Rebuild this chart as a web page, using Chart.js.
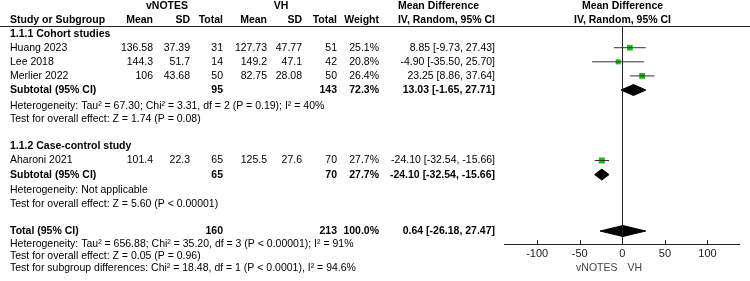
<!DOCTYPE html>
<html><head><meta charset="utf-8">
<script src="https://cdn.jsdelivr.net/npm/chart.js@4/dist/chart.umd.min.js"></script>
<style>html,body{margin:0;padding:0;background:#fff;}canvas{display:block;}</style>
</head><body>
<canvas id="c" width="750" height="281"></canvas>
<script>
// ---------- data ----------
const studies = ['Huang 2023', 'Lee 2018', 'Merlier 2022', 'Aharoni 2021'];
const studyGroup = [0, 0, 0, 1];
const vnotesMean = [136.58, 144.3, 106, 101.4];
const vnotesSD = [37.39, 51.7, 43.68, 22.3];
const vnotesTotal = [31, 14, 50, 65];
const vhMean = [127.73, 149.2, 82.75, 125.5];
const vhSD = [47.77, 47.1, 28.08, 27.6];
const vhTotal = [51, 42, 50, 70];
const weights = [25.1, 20.8, 26.4, 27.7];
const md = [8.85, -4.90, 23.25, -24.10];
const mdLow = [-9.73, -35.50, 8.86, -32.54];
const mdHigh = [27.43, 25.70, 37.64, -15.66];

const groupNames = ['1.1.1 Cohort studies', '1.1.2 Case-control study'];
const subVnotesTotal = [95, 65];
const subVhTotal = [143, 70];
const subWeight = [72.3, 27.7];
const subMd = [13.03, -24.10];
const subLow = [-1.65, -32.54];
const subHigh = [27.71, -15.66];
const hetTexts = ['Heterogeneity: Tau\u00b2 = 67.30; Chi\u00b2 = 3.31, df = 2 (P = 0.19); I\u00b2 = 40%', 'Heterogeneity: Not applicable'];
const effectTexts = ['Test for overall effect: Z = 1.74 (P = 0.08)', 'Test for overall effect: Z = 5.60 (P < 0.00001)'];

const totalVnotes = [160];
const totalVh = [213];
const totalWeight = [100.0];
const totalMd = [0.64];
const totalLow = [-26.18];
const totalHigh = [27.47];
const totalTexts = [
  'Heterogeneity: Tau\u00b2 = 656.88; Chi\u00b2 = 35.20, df = 3 (P < 0.00001); I\u00b2 = 91%',
  'Test for overall effect: Z = 0.05 (P = 0.96)',
  'Test for subgroup differences: Chi\u00b2 = 18.48, df = 1 (P < 0.0001), I\u00b2 = 94.6%'
];
const xTicks = [-100, -50, 0, 50, 100];
const favourLabels = ['vNOTES', 'VH'];

// ---------- layout (row positions in y-scale units) ----------
const studyRows = [1, 2, 3, 9];
const groupRows = [0, 8];
const subRows = [4, 10];
const hetRows = [5.13, 11.1];
const effectRows = [6.06, 12.1];
const totalRow = 14;
const totalTextRows = [14.92, 15.77, 16.62];
const headRow1 = -1.96, headRow2 = -0.97;
const DH = 0.39; // diamond half height
const COL = {study: 10, vMean: 153, vSD: 190, vTotal: 223, hMean: 267, hSD: 302, hTotal: 337, weight: 379, ci: 495};
const FF = '"Liberation Sans", Arial, sans-serif';
const FS = '10.5px ';
const GREEN = '#14bd14';

const fmtCI = (e, l, h) => e.toFixed(2) + ' [' + l.toFixed(2) + ', ' + h.toFixed(2) + ']';
const diamond = (e, l, h, r) => [{x: l, y: r}, {x: e, y: r - DH}, {x: h, y: r}, {x: e, y: r + DH}, {x: l, y: r}];

const datasets = [];
studies.forEach((s, i) => {
  datasets.push({type: 'line', data: [{x: mdLow[i], y: studyRows[i]}, {x: mdHigh[i], y: studyRows[i]}],
    borderColor: '#333', borderWidth: 1, pointRadius: 0, fill: false});
});
datasets.push({type: 'scatter', data: studies.map((s, i) => ({x: md[i], y: studyRows[i]})),
  pointStyle: 'rect', pointRadius: (c) => 1.6 + weights[c.dataIndex] * 0.095,
  backgroundColor: GREEN, borderColor: GREEN, borderWidth: 0});
subMd.forEach((e, g) => {
  datasets.push({type: 'line', data: diamond(e, subLow[g], subHigh[g], subRows[g]),
    borderColor: '#000', backgroundColor: '#000', borderWidth: 1, pointRadius: 0, fill: 'shape'});
});
datasets.push({type: 'line', data: diamond(totalMd[0], totalLow[0], totalHigh[0], totalRow),
  borderColor: '#000', backgroundColor: '#000', borderWidth: 1, pointRadius: 0, fill: 'shape'});

const textPlugin = {
  id: 'forestText',
  afterDraw(chart) {
    const ctx = chart.ctx;
    const xs = chart.scales.x, ys = chart.scales.y;
    const Y = (r) => ys.getPixelForValue(r);
    const ca = chart.chartArea;
    const x0 = Math.round(xs.getPixelForValue(0)) + 0.5;
    ctx.save();
    ctx.strokeStyle = '#222'; ctx.lineWidth = 1;
    ctx.beginPath();
    ctx.moveTo(0, Math.round(ca.top) + 0.5); ctx.lineTo(750, Math.round(ca.top) + 0.5);
    ctx.moveTo(x0, ca.top); ctx.lineTo(x0, ca.bottom);
    xTicks.forEach(v => {
      const px = Math.round(xs.getPixelForValue(v)) + 0.5;
      ctx.moveTo(px, ca.bottom); ctx.lineTo(px, ca.bottom - 4);
    });
    ctx.stroke();

    const txt = (s, x, r, align, bold, color) => {
      ctx.font = (bold ? 'bold ' : '') + FS + FF;
      ctx.textAlign = align || 'left';
      ctx.textBaseline = 'middle';
      ctx.fillStyle = color || '#000';
      ctx.fillText(s, x, Y(r));
    };
    txt('vNOTES', 167, headRow1, 'center', true);
    txt('VH', 281, headRow1, 'center', true);
    txt('Mean Difference', 438.5, headRow1, 'center', true);
    txt('Mean Difference', x0, headRow1, 'center', true);
    txt('Study or Subgroup', COL.study, headRow2, 'left', true);
    txt('Mean', COL.vMean, headRow2, 'right', true);
    txt('SD', COL.vSD, headRow2, 'right', true);
    txt('Total', COL.vTotal, headRow2, 'right', true);
    txt('Mean', COL.hMean, headRow2, 'right', true);
    txt('SD', COL.hSD, headRow2, 'right', true);
    txt('Total', COL.hTotal, headRow2, 'right', true);
    txt('Weight', COL.weight, headRow2, 'right', true);
    txt('IV, Random, 95% CI', COL.ci, headRow2, 'right', true);
    txt('IV, Random, 95% CI', x0, headRow2, 'center', true);

    groupNames.forEach((g, k) => {
      txt(g, COL.study, groupRows[k], 'left', true);
      txt('Subtotal (95% CI)', COL.study, subRows[k], 'left', true);
      txt(String(subVnotesTotal[k]), COL.vTotal, subRows[k], 'right', true);
      txt(String(subVhTotal[k]), COL.hTotal, subRows[k], 'right', true);
      txt(subWeight[k].toFixed(1) + '%', COL.weight, subRows[k], 'right', true);
      txt(fmtCI(subMd[k], subLow[k], subHigh[k]), COL.ci, subRows[k], 'right', true);
      txt(hetTexts[k], COL.study, hetRows[k], 'left');
      txt(effectTexts[k], COL.study, effectRows[k], 'left');
    });
    studies.forEach((s, i) => {
      const r = studyRows[i];
      txt(s, COL.study, r, 'left');
      txt(String(vnotesMean[i]), COL.vMean, r, 'right');
      txt(String(vnotesSD[i]), COL.vSD, r, 'right');
      txt(String(vnotesTotal[i]), COL.vTotal, r, 'right');
      txt(String(vhMean[i]), COL.hMean, r, 'right');
      txt(String(vhSD[i]), COL.hSD, r, 'right');
      txt(String(vhTotal[i]), COL.hTotal, r, 'right');
      txt(weights[i].toFixed(1) + '%', COL.weight, r, 'right');
      txt(fmtCI(md[i], mdLow[i], mdHigh[i]), COL.ci, r, 'right');
    });
    txt('Total (95% CI)', COL.study, totalRow, 'left', true);
    txt(String(totalVnotes[0]), COL.vTotal, totalRow, 'right', true);
    txt(String(totalVh[0]), COL.hTotal, totalRow, 'right', true);
    txt(totalWeight[0].toFixed(1) + '%', COL.weight, totalRow, 'right', true);
    txt(fmtCI(totalMd[0], totalLow[0], totalHigh[0]), COL.ci, totalRow, 'right', true);
    totalTexts.forEach((t, k) => txt(t, COL.study, totalTextRows[k], 'left'));
    txt(favourLabels[0], x0 - 5, 16.62, 'right', false, '#444');
    txt(favourLabels[1], x0 + 5, 16.62, 'left', false, '#444');
    ctx.restore();
  }
};

new Chart(document.getElementById('c'), {
  type: 'scatter',
  data: {datasets},
  options: {
    responsive: false, devicePixelRatio: 1, animation: false, events: [],
    layout: {padding: {left: 504, right: 11, top: 26, bottom: 0}},
    plugins: {legend: {display: false}, tooltip: {enabled: false}},
    scales: {
      x: {type: 'linear', min: -139, max: 137,
        afterBuildTicks: (s) => { s.ticks = xTicks.map(v => ({value: v})); },
        afterFit: (s) => { s.height = 37; },
        grid: {display: false, drawTicks: false},
        border: {display: true, color: '#222', width: 1},
        ticks: {padding: 3, color: '#222', font: {family: FF, size: 11}}},
      y: {type: 'linear', display: false, reverse: true, min: -0.54, max: 14.92}
    }
  },
  plugins: [textPlugin]
});
</script>
</body></html>
